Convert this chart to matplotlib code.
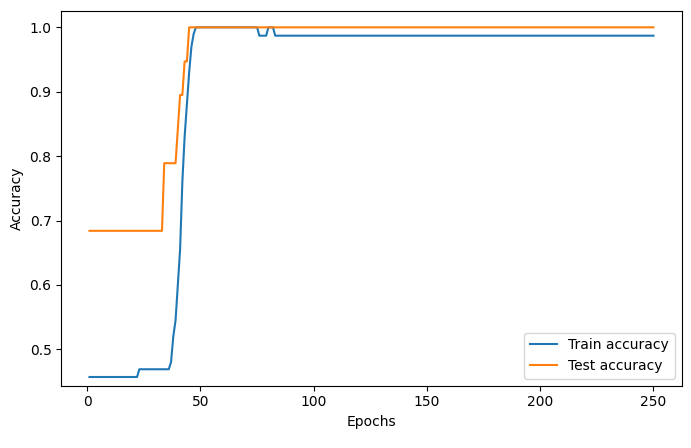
import matplotlib
matplotlib.use("Agg")
import matplotlib.pyplot as plt

# Key points (line passes straight between them)
train_epochs = [1, 22, 23, 36, 37, 38, 39, 40, 41, 42, 43, 44, 45, 46, 47, 48,
                75, 76, 79, 80, 82, 83, 250]
train_acc = [0.457, 0.457, 0.469, 0.469, 0.48, 0.52, 0.545, 0.60, 0.655, 0.76,
             0.83, 0.88, 0.93, 0.97, 0.99, 1.0, 1.0, 0.987, 0.987, 1.0, 1.0,
             0.987, 0.987]

test_epochs = [1, 33, 34, 39, 40, 41, 42, 43, 44, 45, 250]
test_acc = [0.684, 0.684, 0.789, 0.789, 0.842, 0.895, 0.895, 0.947, 0.947,
            1.0, 1.0]

fig = plt.figure(figsize=(6.91, 4.48), dpi=100)
ax = fig.add_axes([0.0887, 0.1391, 0.8978, 0.8370])
ax.plot(train_epochs, train_acc, label="Train accuracy")
ax.plot(test_epochs, test_acc, label="Test accuracy")
ax.set_ylim(0.4435, 1.0258)
ax.set_xlabel("Epochs")
ax.set_ylabel("Accuracy")
ax.legend(loc="lower right")
fig.savefig("out.png", dpi=100)
